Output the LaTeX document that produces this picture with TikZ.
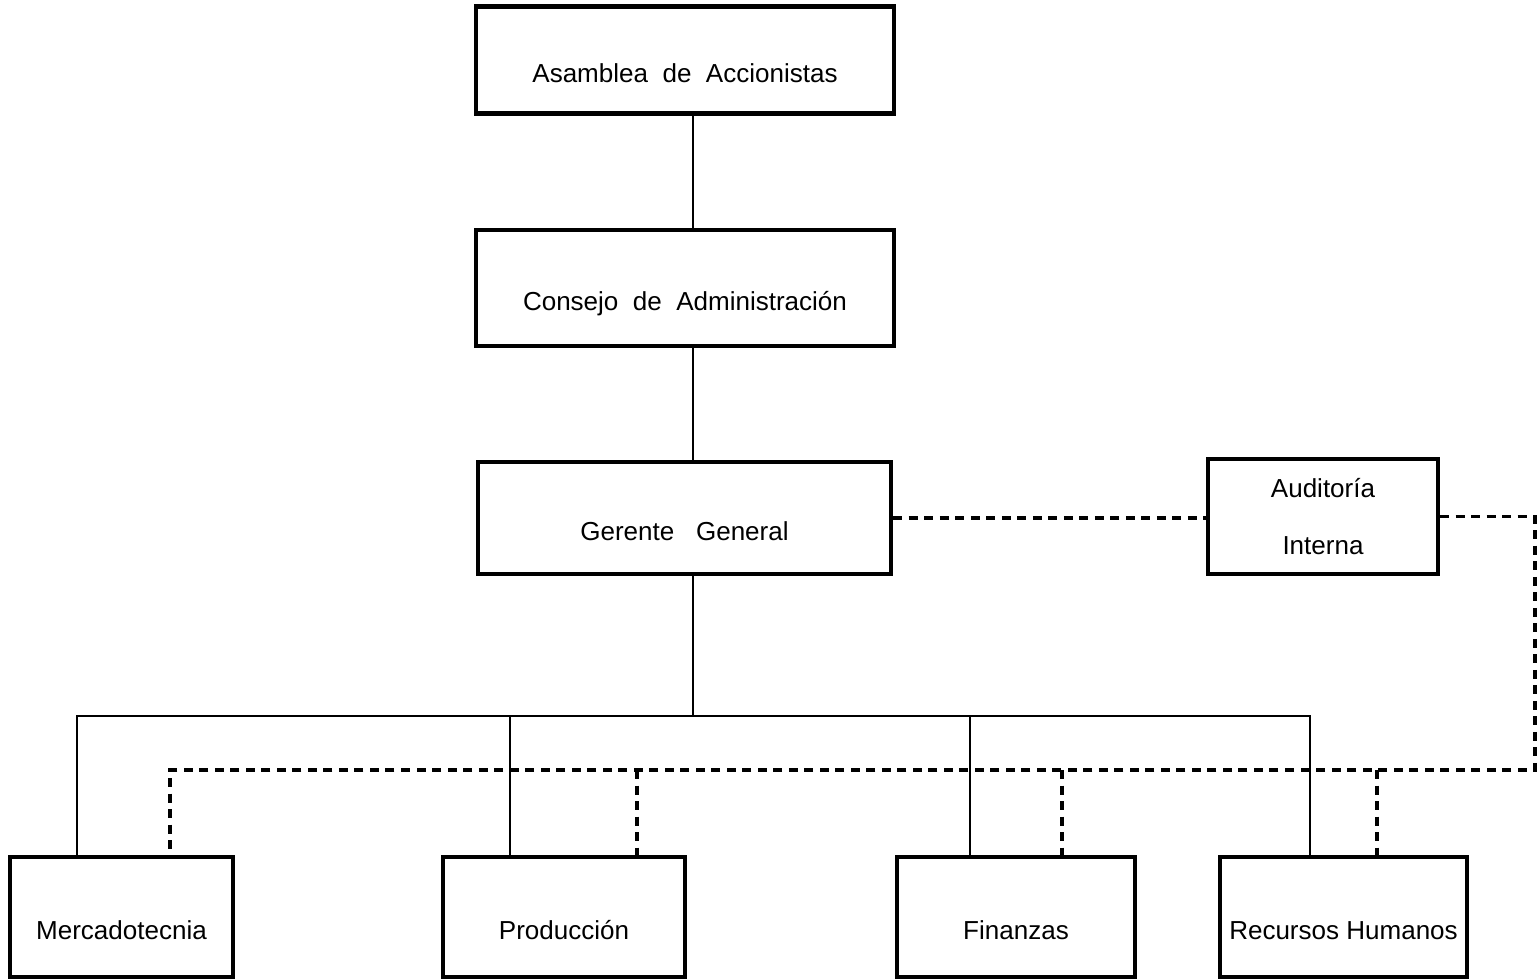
\documentclass[tikz,border=0pt]{standalone}
\usepackage{fontspec}
\setmainfont{Liberation Sans}
\begin{document}
\begin{tikzpicture}[x=0.01cm,y=-0.01cm,
  box/.style={draw, line width=1.2pt, inner sep=0pt, text height=0.45cm, text depth=0pt,
    font=\fontsize{7.4}{9}\selectfont},
  solidline/.style={line width=0.6pt},
  dashline/.style={line width=0.9pt, dash pattern=on 0.09cm off 0.065cm}]
\useasboundingbox (0,0) rectangle (1539,980);
% boxes
\node[box, minimum width=4.18cm, minimum height=1.07cm] (asam) at (685,60) {Asamblea\ \ de\ \ Accionistas};
\node[box, minimum width=4.18cm, minimum height=1.16cm] (cons) at (685,288) {Consejo\ \ de\ \ Administración};
\node[box, minimum width=4.13cm, minimum height=1.12cm] (ger) at (684.5,518) {Gerente\ \ \ General};
\node[box, minimum width=2.30cm, minimum height=1.15cm, text height=, text depth=, align=center] (aud) at (1323,516.5) {Auditoría\\[0.25cm]Interna};
\node[box, minimum width=2.23cm, minimum height=1.20cm] (merc) at (121.5,917) {Mercadotecnia};
\node[box, minimum width=2.42cm, minimum height=1.20cm] (prod) at (564,917) {Producción};
\node[box, minimum width=2.38cm, minimum height=1.20cm] (fin) at (1016,917) {Finanzas};
\node[box, minimum width=2.47cm, minimum height=1.20cm] (rh) at (1343.5,917) {Recursos\ Humanos};
% solid line coordinates
\coordinate (spine) at (693,716);
\coordinate (busL) at (77,716);
\coordinate (busR) at (1310,716);
\coordinate (p1) at (510,716);
\coordinate (f1) at (970,716);
% dashed line coordinates
\coordinate (dR) at (1535,770);
\coordinate (dL) at (170,770);
\coordinate (dP) at (637,770);
\coordinate (dF) at (1062,770);
\coordinate (dH) at (1377,770);
% solid connectors
\draw[solidline] (asam.south -| spine) -- (cons.north -| spine);
\draw[solidline] (cons.south -| spine) -- (ger.north -| spine);
\draw[solidline] (ger.south -| spine) -- (spine);
\draw[solidline] (merc.north -| busL) -- (busL) -- (busR) -- (rh.north -| busR);
\draw[solidline] (p1) -- (prod.north -| p1);
\draw[solidline] (f1) -- (fin.north -| f1);
% dashed connectors
\draw[dashline] (ger.east) -- (ger.east -| aud.west);
\draw[dashline] (aud.east) -- (dR |- aud.east) -- (dR) -- (dL) -- (merc.north -| dL);
\draw[dashline] (dP) -- (prod.north -| dP);
\draw[dashline] (dF) -- (fin.north -| dF);
\draw[dashline] (dH) -- (rh.north -| dH);
\end{tikzpicture}
\end{document}
